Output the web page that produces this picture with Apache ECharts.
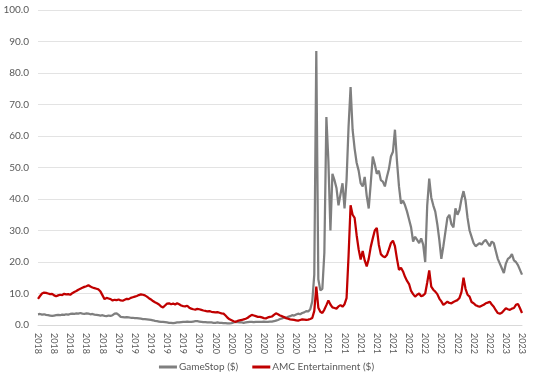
<!DOCTYPE html>
<html>
<head>
<meta charset="utf-8">
<script src="https://cdn.jsdelivr.net/npm/echarts@6/dist/echarts.min.js"></script>
<style>html,body{margin:0;padding:0;background:#fff}#c{width:533px;height:382px}</style>
</head>
<body>
<div id="c"></div>
<script>
// Tick labels along the x axis (one every ~2 months, weekly data points)
const tickLabels = ['2018','2018','2018','2018','2018',
  '2019','2019','2019','2019','2019','2019',
  '2020','2020','2020','2020','2020','2020',
  '2021','2021','2021','2021','2021','2021',
  '2022','2022','2022','2022','2022','2022',
  '2023','2023'];
const pointsPerTick = 8;

// GameStop ($), weekly
const gameStop = [
3.4,3.5,3.3,3.4,3.2,3.1,3.0,2.9,3.0,3.1,
3.2,3.1,3.3,3.2,3.4,3.3,3.5,3.6,3.5,3.7,
3.6,3.8,3.6,3.5,3.7,3.6,3.4,3.5,3.3,3.2,
3.1,3.0,3.1,2.9,2.8,3.0,2.9,3.1,3.6,3.7,
3.2,2.6,2.5,2.4,2.5,2.4,2.3,2.3,2.2,2.2,
2.1,2.0,1.9,1.9,1.8,1.7,1.6,1.5,1.3,1.2,
1.1,1.0,1.0,0.9,0.8,0.7,0.7,0.6,0.7,0.8,
0.8,0.9,1.0,1.0,1.1,1.0,1.0,1.1,1.2,1.2,
1.1,1.0,0.9,0.9,0.8,0.8,0.8,0.7,0.7,0.8,
0.7,0.7,0.6,0.6,0.5,0.5,0.6,0.8,1.0,0.9,
0.8,0.8,0.7,0.8,0.9,1.0,1.0,0.9,1.0,1.0,
1.0,1.0,1.1,1.0,1.0,1.1,1.1,1.2,1.4,1.6,
1.9,2.1,2.4,2.2,2.6,2.8,3.1,3.0,3.3,3.6,
3.4,3.8,4.0,4.4,4.3,5.0,7.5,16.0,87.0,14.5,
11.0,11.5,23.0,66.0,52.0,30.0,48.0,46.0,43.5,38.0,
41.5,45.0,37.0,46.0,63.0,75.5,62.0,56.0,51.5,49.0,
45.0,44.0,47.0,41.0,37.0,45.0,53.5,51.0,48.0,49.0,
46.0,45.5,44.0,47.0,49.5,53.5,55.0,62.0,52.0,44.0,
38.5,39.5,38.0,36.0,33.5,31.0,26.5,28.0,27.0,26.0,
27.5,25.5,20.0,38.0,46.5,40.5,38.0,36.0,32.0,27.0,
21.0,25.0,29.5,34.0,35.0,32.0,31.0,37.0,35.0,36.5,
40.0,42.5,39.5,34.0,30.0,28.0,26.0,25.0,25.5,26.0,
25.5,26.5,27.0,26.0,25.0,26.5,26.0,23.5,21.0,19.5,
18.0,16.5,19.5,21.0,21.5,22.5,20.5,20.0,19.0,17.5,
16.0
];

// AMC Entertainment ($), weekly
const amc = [
8.3,9.2,10.0,10.3,10.2,10.0,9.8,9.9,9.4,9.1,
9.4,9.6,9.5,9.9,9.7,9.8,9.6,10.1,10.5,10.8,
11.2,11.5,11.8,12.1,12.3,12.6,12.2,11.9,11.7,11.5,
11.3,10.6,9.4,8.2,8.6,8.4,8.2,7.8,8.0,7.9,
8.1,7.8,7.7,8.0,8.3,8.2,8.6,8.8,9.0,9.2,
9.5,9.7,9.6,9.4,9.0,8.5,8.1,7.6,7.2,6.9,
6.5,5.9,5.6,6.2,6.8,6.9,6.6,6.8,6.5,6.9,
6.6,6.2,6.0,5.9,6.1,5.5,5.2,5.0,4.9,5.1,
5.0,4.8,4.6,4.5,4.3,4.4,4.2,4.1,4.0,4.1,
3.9,3.7,3.6,3.0,2.3,1.8,1.5,1.2,1.0,1.3,
1.5,1.6,1.8,2.0,2.3,2.8,3.2,3.0,2.8,2.6,
2.6,2.4,2.2,2.1,2.4,2.6,2.7,3.2,3.7,3.4,
3.0,2.8,2.5,2.2,2.0,1.8,1.7,1.6,1.5,1.4,
1.6,1.8,1.7,1.6,1.7,1.9,2.2,4.5,12.2,5.5,
4.2,3.8,4.9,6.3,7.8,6.5,5.6,5.4,5.2,5.9,
6.3,5.8,6.6,8.5,22.0,38.0,35.0,34.0,28.5,24.0,
20.8,23.5,20.5,18.6,21.0,24.8,27.5,30.0,30.8,25.5,
22.5,21.8,21.5,22.2,24.0,26.0,26.8,25.0,21.0,17.5,
18.2,17.0,15.3,14.0,13.0,10.8,9.8,9.0,9.6,10.0,
9.1,9.4,10.0,13.5,17.3,12.2,11.2,10.6,9.8,8.4,
7.5,6.4,6.9,7.4,7.0,6.9,7.3,7.6,7.9,8.6,
10.5,15.0,11.5,9.6,9.0,7.3,6.9,6.3,6.0,5.8,
6.1,6.4,6.9,7.1,7.4,6.5,5.8,4.7,3.8,3.6,
3.9,4.6,5.3,5.0,4.8,5.2,5.4,6.4,6.7,5.3,
3.8
];

const categories = gameStop.map((_, j) => tickLabels[Math.min(tickLabels.length - 1, Math.floor(j / pointsPerTick))]);

const font = 'Lato, "Open Sans", sans-serif';
const chart = echarts.init(document.getElementById('c'), null, {renderer: 'canvas'});
chart.setOption({
  animation: false,
  backgroundColor: '#ffffff',
  textStyle: {fontFamily: font},
  grid: {left: 38, right: 11, top: 10, bottom: 57, containLabel: false},
  legend: {
    bottom: 5,
    left: 'center',
    itemWidth: 18,
    itemHeight: 3,
    itemGap: 14,
    icon: 'rect',
    textStyle: {color: '#595959', fontSize: 10, fontFamily: font, padding: [0, 0, 0, -3]},
    data: ['GameStop ($)', 'AMC Entertainment ($)']
  },
  xAxis: {
    type: 'category',
    data: categories,
    boundaryGap: false,
    axisLine: {lineStyle: {color: '#d9d9d9'}},
    axisTick: {show: false},
    axisLabel: {
      interval: pointsPerTick - 1,
      rotate: -90,
      color: '#595959',
      fontSize: 9,
      margin: 8,
      fontFamily: font
    },
    splitLine: {show: false}
  },
  yAxis: {
    type: 'value',
    min: 0,
    max: 100,
    interval: 10,
    axisLine: {show: false},
    axisTick: {show: false},
    axisLabel: {
      color: '#595959',
      fontSize: 10,
      margin: 9,
      fontFamily: font,
      formatter: v => v.toFixed(1)
    },
    splitLine: {lineStyle: {color: '#e3e3e3', width: 1}}
  },
  series: [
    {
      name: 'GameStop ($)',
      type: 'line',
      data: gameStop,
      showSymbol: false,
      symbol: 'none',
      lineStyle: {color: '#7f7f7f', width: 2.25},
      itemStyle: {color: '#7f7f7f'}
    },
    {
      name: 'AMC Entertainment ($)',
      type: 'line',
      data: amc,
      showSymbol: false,
      symbol: 'none',
      lineStyle: {color: '#c00000', width: 2.25},
      itemStyle: {color: '#c00000'}
    }
  ]
});
</script>
</body>
</html>
